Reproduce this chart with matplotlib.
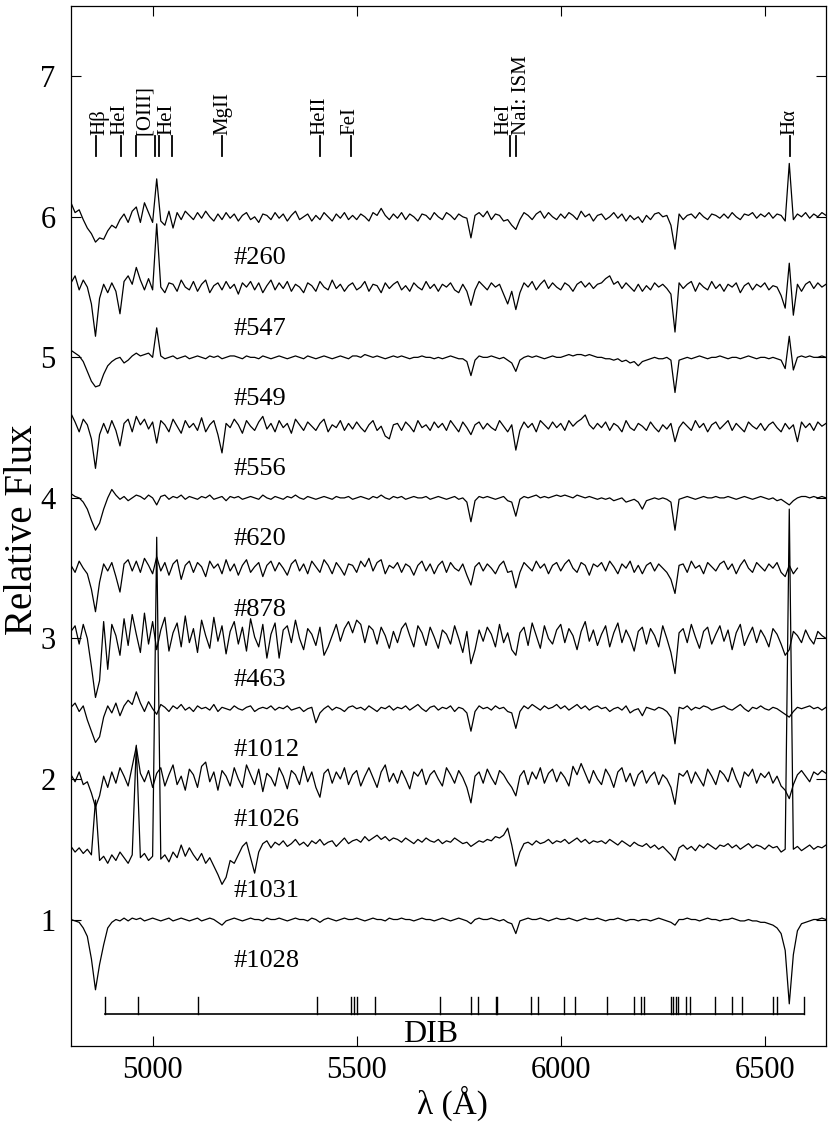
import numpy as np
import matplotlib
matplotlib.use("Agg")
import matplotlib.pyplot as plt

plt.rcParams['font.family'] = ['Liberation Serif', 'DejaVu Serif']

# ---------------- data ----------------
WL_START = 4800.0
WL_STEP = 10.0

names = ['#260', '#547', '#549', '#556', '#620', '#878', '#463',
         '#1012', '#1026', '#1031', '#1028']
offsets = [6.0, 5.5, 5.0, 4.5, 4.0, 3.5, 3.0, 2.5, 2.0, 1.5, 1.0]

# normalized flux deviation (percent), sampled every 10 A from 4800 A
d260 = [10, 3, 5, -2, -8, -12, -18, -15, -16, -10,
        -6, -8, -2, 2, -4, 4, 7, -4, 10, 3,
        -4, 27, -3, -6, 4, -8, 3, -2, 4, 1,
        -2, 3, -1, 4, 0, -3, 2, -2, 3, -1,
        2, -3, 1, 3, -2, 0, -4, 2, 1, -2,
        3, -1, 2, -3, 1, 4, -2, 0, 2, -3,
        1, -2, 3, 0, -3, 2, -1, 3, -2, 1,
        -2, 2, 0, -3, 3, 1, 6, 1, -2, 2,
        -1, 3, -2, 2, 0, -3, 2, 1, -2, 3,
        0, -2, 3, 1, -2, 2, 0, -1, -15, 1,
        3, 0, 4, -2, 2, 1, -3, -2, -6, -9,
        -2, 3, 1, -2, 2, 4, -1, 3, 0, -2,
        2, -1, 3, 1, -2, 4, 0, 2, -3, 1,
        2, -2, 0, 3, -1, 2, -3, 1, -2, 0,
        -4, 1, -2, 2, 3, 0, 1, -6, -23, 2,
        -2, 1, 2, -1, 3, 0, -2, 2, 1, -1,
        2, -1, 3, 0, -2, 2, 1, 3, -1, 2,
        0, 3, -1, 2, 1, -3, 38, -2, 2, 0,
        3, -1, 2, 0, 3, 1]

d547 = [3, 8, -2, 5, 0, -12, -35, -8, 2, -4,
        3, -3, -19, 4, 8, 2, 14, 5, -2, 6,
        -2, 45, 0, -4, 3, 2, -3, 5, 0, -2,
        4, -3, 2, 5, -4, 1, 3, -2, 4, -1,
        2, -5, 3, 0, 4, -2, 3, -4, 1, 5,
        -2, 3, -1, 4, -3, 2, 0, -4, 3, 1,
        -3, 4, 0, -2, 5, -1, 2, -3, 1, 3,
        -2, 0, 4, -3, 2, 1, -4, 3, -1, 2,
        4, -2, 1, -3, 3, 0, -2, 4, -1, 2,
        -3, 2, 0, 3, -2, -4, 2, -3, -13, -2,
        4, 1, -2, 3, 0, 2, -5, -12, -3, -16,
        -4, 3, 0, 4, -2, 2, 5, -1, 3, 0,
        -2, 3, 1, -3, 2, 4, 0, 3, -1, 2,
        3, 6, 8, 2, 4, -1, 3, 0, -3, 2,
        -3, 1, -2, 3, 0, 2, -1, -5, -32, 3,
        -1, 2, 4, -3, 3, 0, -2, 4, -1, 2,
        -3, 2, 0, 3, -4, 1, 3, -2, 2, 0,
        3, -2, 1, 0, -6, -15, 17, -20, 2, -3,
        2, 4, -1, 3, 0, 2]

d549 = [5, 3, 1, -3, -10, -17, -21, -20, -12, -6,
        -3, -1, 0, -4, -2, 1, 3, 1, 2, 3,
        0, 21, 1, -1, 0, 1, -1, 0, 1, -1,
        0, 1, 0, -1, 1, 0, 1, -1, 0, 1,
        1, 0, -1, 1, 0, 0, -1, 1, 0, -1,
        0, 1, 0, -1, 0, 1, 0, -1, 1, 0,
        -1, 0, 1, 0, -1, 0, 1, 0, -1, 1,
        1, 0, 2, 1, 0, 1, 0, -1, 0, 1,
        0, 1, 0, -1, 0, 0, 1, 0, 0, -1,
        0, -1, 0, 1, 0, -1, -1, -3, -13, -2,
        1, 0, 0, 1, 0, -1, 0, -2, -4, -10,
        -2, 0, 1, 0, 1, 0, -1, 0, 1, 0,
        0, 1, 2, 1, 2, 2, 1, 2, 1, 0,
        0, -1, -1, -2, -1, -3, -2, -4, -3, -6,
        -3, -2, -1, 0, -1, -1, 0, -2, -25, -2,
        -1, 0, -1, 0, 1, 0, -1, 0, 0, 1,
        0, -1, 0, 0, -1, 0, 1, 0, -1, 0,
        0, -1, 0, -1, -2, -8, 15, -9, 0, 1,
        0, 1, 0, 0, 1, 0]

d556 = [10, 4, -3, 6, 2, -8, -29, -5, 3, -4,
        5, -2, -13, 3, 6, -3, 8, 2, 6, -1,
        4, -11, 5, 2, -3, 6, 1, -4, 5, 0,
        3, -2, 7, -3, 2, 5, -5, -18, 3, 0,
        6, 2, -4, 5, 1, -2, 4, 8, -1, 3,
        -3, 5, 0, 3, -4, 6, 2, -2, 4, 1,
        -2, 3, 6, -3, 2, 0, 5, -2, 3, -1,
        4, 0, -3, 2, 5, -2, 1, -6, -8, 2,
        3, -2, 4, 1, -3, 5, 0, 2, -2, 4,
        0, 3, -2, 5, 1, -3, 4, 0, -5, 2,
        4, -1, 3, 0, -2, 5, 1, -3, 2, -16,
        -2, 4, 0, 3, -3, 5, 2, -1, 4, 0,
        3, -2, 5, 1, 4, 6, 9, 2, -1, 3,
        0, 4, -2, 3, 1, -3, 5, 0, -2, 3,
        1, -2, 4, 0, -3, 2, -1, 3, -10, 0,
        4, 1, -2, 5, 0, 3, -3, 2, 4, -1,
        2, 5, -2, 3, 0, -3, 4, 1, -1, 3,
        -2, 2, 4, 0, -3, 3, -1, 2, -10, 4,
        0, 3, -2, 4, 1, 3]

d620 = [3, 1, 0, -3, -8, -16, -23, -18, -8, 0,
        6, 2, -1, 1, -2, 0, 2, 1, -1, 2,
        0, -5, 1, 2, -1, 1, 0, 2, -1, 1,
        0, -1, 1, 0, 2, -1, 0, 1, -2, 1,
        0, 1, -1, 0, 1, 0, -1, 2, 0, -1,
        1, 0, -1, 1, 0, 2, 0, -1, 1, 0,
        -1, 0, 1, 0, -1, 1, 0, 0, 1, -1,
        0, 1, 0, -1, 1, 0, 2, 0, -1, 1,
        0, 1, -1, 0, 1, 0, 0, 1, -1, 0,
        1, 0, -1, 0, 1, -1, 0, -3, -17, -2,
        1, 0, 1, 0, -1, 0, 1, -2, -3, -13,
        -1, 1, 0, 1, 2, 0, 1, 0, 1, 2,
        1, 2, 1, 0, 2, 1, 0, 1, 0, -1,
        0, -1, 0, -2, -1, 0, -3, -2, -1, -3,
        -8, -2, -1, 0, -1, 0, -1, -3, -23, -1,
        0, 1, 0, -1, 0, 1, 0, 0, 1, 0,
        0, 1, 0, -1, 0, 1, 0, -1, 0, 1,
        0, -1, 0, -2, -1, -3, -5, -2, 0, 1,
        1, 0, 1, 0, 1, 0]

d878 = [2, -3, 5, 0, -4, -15, -31, -10, 3, -2,
        4, -6, -17, 3, 6, -2, 5, -3, 7, 2,
        -4, 8, -2, 4, -5, 3, 6, -8, 2, 5,
        -3, 4, 1, -6, 5, 0, 3, -4, 6, -2,
        3, -5, 2, 6, -3, 1, 4, -6, 2, 5,
        -2, 4, 0, -5, 3, 6, -2, 3, -4, 5,
        1, -3, 6, 2, -4, 4, 0, -5, 3, 2,
        -3, 5, 1, 7, -2, 4, 6, -4, 2, 0,
        4, -3, 3, 1, -5, 2, 5, -2, 3, -4,
        2, 5, -3, 4, 0, -2, 3, -5, -12, 1,
        4, -2, 3, 0, -4, 2, 5, -3, -2, -14,
        -3, 4, 1, -2, 5, 0, 3, -4, 2, 4,
        -2, 3, 6, 0, -3, 4, 2, -5, 3, 1,
        4, -2, 5, 1, -4, 3, 0, 5, -3, 2,
        -4, 2, 4, -2, 3, 0, -3, -8, -18, 2,
        3, -3, 5, 0, 2, -4, 4, 1, -2, 3,
        5, -1, 3, -4, 2, 6, 0, -3, 4, 1,
        -2, 3, 0, 4, -3, -6, 2, -4, 0]

d463 = [5, 9, -4, 10, 0, -20, -42, -30, 12, -22,
        10, 2, -12, 14, -5, 17, 3, -10, 18, -4,
        12, -8, 6, 15, -9, 4, 11, -6, 16, -3,
        7, -10, 13, 2, -7, 15, -2, 9, -11, 5,
        12, -4, 8, -9, 14, 1, -6, 10, -14, 3,
        11, -14, 6, 9, -3, 13, 0, -8, 7, 3,
        -5, 8, -12, -6, 2, 10, -2, 7, 12, 4,
        13, 10, -3, 9, 6, -4, 8, 2, -7, 5,
        -3, 7, 11, 2, -6, 9, 4, -5, 8, 1,
        -7, 6, 3, -4, 9, 0, -10, 5, -18, -8,
        6, -2, 8, 3, -6, 10, -3, 4, -8, -12,
        4, 8, -5, 11, 2, -7, 9, 0, -4, 6,
        10, -3, 7, 2, -8, 5, 12, -2, 6, -5,
        3, 9, -6, 4, 11, -3, 6, 0, -9, 5,
        8, -4, 7, 2, -6, 9, 0, -10, -25, 4,
        7, -3, 10, 1, -7, 5, 8, -4, 3, 9,
        -2, 6, -8, 4, 10, -5, 2, 8, -3, 6,
        1, -6, 7, 3, -4, -12, -8, 5, 2, -3,
        6, 0, -4, 5, 2, 0]

d1012 = [1, 4, -2, 2, -8, -16, -24, -20, -6, 2,
         -3, 4, -5, 2, 6, 3, 12, 4, -2, 5,
         0, -4, 3, 1, -2, 2, 0, 3, -1, 1,
         -2, 2, 0, 1, -1, 3, -2, 1, 0, -1,
         2, 0, -1, 1, 2, -2, 0, 1, 0, 2,
         -1, 1, 0, 2, -1, 0, 1, -2, 0, 1,
         -10, -3, 0, 2, -1, 1, 0, -2, 1, 2,
         0, 1, -1, 2, 0, -2, 1, 0, 2, -1,
         1, 0, 2, -1, 1, 3, 0, -2, 1, 2,
         -1, 1, 0, 2, -2, 1, 0, -3, -16, -2,
         2, 0, 1, -1, 2, 0, 1, -2, -3, -14,
         -2, 2, 0, 3, 1, -1, 2, 0, 1, 3,
         0, 2, -1, 1, 3, 0, 2, -1, 1, 2,
         0, 1, -2, 0, 1, -1, 2, -3, -1, 0,
         -5, 1, 0, -1, 1, 0, -2, -6, -25, 1,
         0, 2, -1, 1, 0, 2, 1, -1, 0, 1,
         2, 0, -1, 1, 3, 0, -2, 1, 0, 2,
         0, -1, 1, 0, -2, -4, -6, -2, 1, 0,
         1, 2, 0, 1, -1, 1]

d1026 = [3, -2, 5, -4, -2, -10, -20, -12, 2, -6,
         5, -3, 8, 2, -5, 9, 23, 4, -2, 6,
         -6, 4, 8, -5, 3, 10, -4, 2, -8, 7,
         3, -6, 9, 12, -2, 5, -8, 6, 2, -5,
         8, 0, -6, 10, 3, -4, 7, -9, 4, 1,
         -5, 8, 2, -7, 6, 3, -4, 9, -2, 5,
         -6, -13, 4, 7, -3, 5, 0, 8, -4, 3,
         6, -5, 2, 8, 1, -6, 5, 10, -2, 4,
         -3, 6, 0, -7, 5, 2, 7, -4, 3, 6,
         0, -5, 8, 3, -3, 6, 1, -6, -17, 2,
         5, -3, 7, 1, -4, 6, 3, -2, -6, -12,
         2, 6, -4, 5, 0, 8, -3, 4, 7, -2,
         5, 1, -5, 9, 3, 11, 4, -3, 6, 0,
         -4, 7, 2, -6, 5, 8, -2, 4, -5, 3,
         6, -3, 2, 5, -4, 3, 0, -6, -18, 4,
         2, 6, -3, 5, 0, -5, 7, 2, -4, 6,
         3, -2, 8, 0, -6, 5, 2, 7, -3, 4,
         1, 5, -3, 2, -5, -8, -14, -4, 3, 6,
         2, -2, 5, 3, 6, 4]

d1031 = [2, -2, 1, -3, 0, -4, 35, -8, -5, -10,
         -4, -8, -2, -6, -10, -4, 74, -6, -3, -8,
         -5, 222, -7, -4, -9, -2, -6, 3, -5, 1,
         -4, -8, -3, -10, -6, -12, -18, -25, -20, -8,
         -10, -4, 2, 5, -6, -17, -2, 4, 6, 1,
         5, 3, 6, 2, 4, 7, 3, 5, 2, 6,
         4, 7, 3, 5, 6, 2, 5, 8, 4, 6,
         7, 5, 9, 6, 8, 10, 7, 9, 6, 8,
         7, 5, 8, 6, 4, 7, 5, 8, 6, 5,
         7, 4, 6, 5, 8, 6, 4, 5, 2, 4,
         6, 5, 7, 6, 9, 8, 10, 15, 3, -12,
         -2, 4, 5, 3, 6, 4, 5, 7, 4, 6,
         5, 7, 4, 6, 8, 5, 7, 4, 6, 5,
         6, 4, 7, 5, 3, 6, 4, 2, 5, 3,
         2, 4, 1, 3, 0, 2, -1, -4, -8, 1,
         3, 0, 2, -1, 3, 1, 4, 2, 0, 3,
         2, 4, 1, 3, 0, 2, 4, 1, 3, 2,
         0, 3, 1, 2, -2, 0, 242, 0, 2, -1,
         1, 3, 0, 2, 1, 3]

d1028 = [0, -1, -2, -6, -12, -28, -50, -32, -18, -6,
         -2, 0, -1, 1, -1, 1, 0, 1, -1, 0,
         1, 0, -1, 0, 1, -1, 0, 1, 0, -1,
         0, 1, -1, 0, 1, 0, -2, -4, -1, 0,
         1, 0, -1, 0, 1, 0, 0, -1, 1, 0,
         0, 1, 0, -1, 0, 1, 0, 0, -1, 1,
         0, -2, 0, 1, 0, -1, 0, 1, 0, 0,
         1, 0, -1, 0, 1, 0, 0, -1, 1, 0,
         0, 1, 0, 0, -1, 0, 1, 0, 0, -1,
         0, 1, 0, -1, 0, 1, 0, -1, -3, 0,
         1, 0, 0, 1, 0, -1, 0, -2, -3, -10,
         -1, 0, 1, 0, 0, 1, 0, -1, 0, 1,
         0, 0, 1, 0, -1, 0, 1, 0, 0, 1,
         0, -1, 0, 0, 1, 0, -1, 0, 0, -1,
         0, 0, -1, 0, 1, 0, -1, -2, -4, 0,
         0, 1, 0, 0, -1, 0, 1, 0, 0, -1,
         0, 0, 1, 0, -1, -1, 0, -1, -1, -2,
         -2, -3, -4, -6, -10, -22, -60, -25, -8, -3,
         -2, -1, 0, 0, 1, 0]

spectra = [d260, d547, d549, d556, d620, d878, d463, d1012, d1026, d1031, d1028]

# line identifications (bar wavelengths) and label texts / label wavelengths
bar_wl = [4861, 4922, 4959, 5007, 5016, 5048, 5169, 5411, 5485, 5876, 5890, 6563]
label_txt = ['H\u03b2', 'HeI', '[OIII]', 'HeI', 'MgII', 'HeII', 'FeI', 'HeI', 'NaI: ISM', 'H\u03b1']
label_wl = [4869, 4920, 4981, 5035, 5173, 5410, 5484, 5861, 5903, 6562]

# diffuse interstellar bands
dib_wl = [4883, 4963, 5110, 5404, 5487, 5494, 5502, 5545, 5705, 5780, 5797,
          5842, 5845, 5926, 5944, 6008, 6036, 6113, 6179, 6197, 6203, 6270,
          6276, 6282, 6288, 6306, 6316, 6378, 6420, 6445, 6521, 6531, 6595]

# ---------------- plot ----------------
W, H = 830, 1133
fig = plt.figure(figsize=(W / 100, H / 100), dpi=100)
ax = fig.add_axes([71 / W, 1 - 1046 / H, (826 - 71) / W, (1046 - 6) / H])

for name, off, d in zip(names, offsets, spectra):
    wl = WL_START + WL_STEP * np.arange(len(d))
    ax.plot(wl, off + np.asarray(d) / 100.0, color='black', lw=0.9)
    ax.text(5197, off - 0.338, name, fontsize=19, ha='left', va='baseline')

for w in bar_wl:
    ax.plot([w, w], [6.43, 6.575], color='black', lw=1.3)
for t, w in zip(label_txt, label_wl):
    ax.text(w, 6.585, t, rotation=90, fontsize=15, ha='center', va='bottom')

ax.plot([dib_wl[0], dib_wl[-1]], [0.33, 0.33], color='black', lw=1.2)
for w in dib_wl:
    ax.plot([w, w], [0.33, 0.45], color='black', lw=1.0)
ax.text(5680, 0.13, 'DIB', fontsize=23, ha='center', va='baseline')

ax.set_xlim(4800, 6650)
ax.set_ylim(0.1, 7.5)
ax.set_xticks([5000, 5500, 6000, 6500])
ax.set_yticks([1, 2, 3, 4, 5, 6, 7])
ax.tick_params(direction='in', length=7, width=0.8, labelsize=22,
               top=True, right=True)
ax.tick_params(axis='y', pad=11)
ax.tick_params(axis='x', pad=7)
for s in ax.spines.values():
    s.set_linewidth(0.9)

fig.text(23 / W, 1 - 530 / H, 'Relative Flux', rotation=90, fontsize=28,
         ha='center', va='center')
fig.text(452 / W, 1 - 1103 / H, '\u03bb (\u00c5)', fontsize=24,
         ha='center', va='center')

fig.savefig('out.png', dpi=100)
